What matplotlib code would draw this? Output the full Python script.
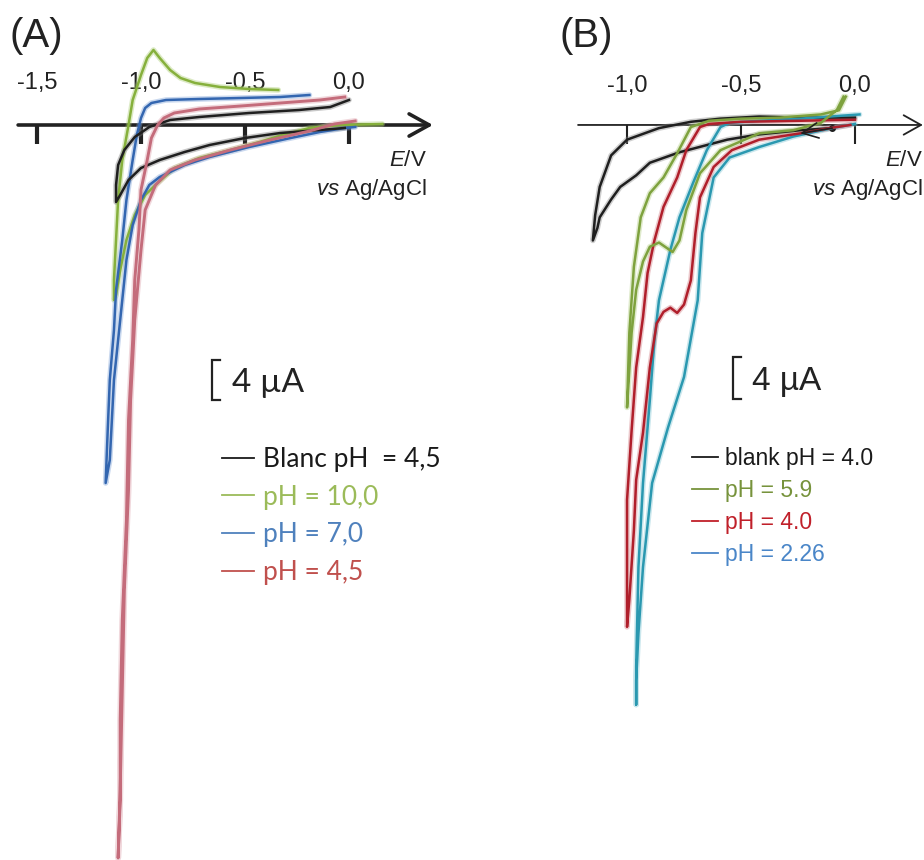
import matplotlib
matplotlib.use('Agg')
import matplotlib.pyplot as plt
from matplotlib.lines import Line2D

plt.rcParams['font.family'] = 'Liberation Sans'
plt.rcParams['mathtext.fontset'] = 'custom'
plt.rcParams['mathtext.it'] = 'Liberation Sans:italic'
plt.rcParams['mathtext.rm'] = 'Liberation Sans'

# ---- data: potential E (V vs Ag/AgCl) and current I (uA) ----
# panel A
e_blank_a = [0.00, -0.09, -0.24, -0.48, -0.72, -0.86, -0.96, -1.03, -1.08, -1.11, -1.12, -1.12,
             -1.10, -1.06, -1.00, -0.91, -0.79, -0.67, -0.50, -0.33, -0.14, -0.02]
i_blank_a = [2.5, 1.8, 1.5, 1.2, 0.8, 0.5, -0.2, -1.2, -2.5, -4.0, -6.0, -7.7,
             -7.0, -5.5, -4.3, -3.5, -2.7, -2.0, -1.3, -0.8, -0.5, -0.3]

e_ph10 = [-0.34, -0.48, -0.62, -0.74, -0.81, -0.86, -0.91, -0.94, -0.97, -1.00, -1.04, -1.06,
          -1.09, -1.11, -1.12, -1.13, -1.13, -1.12, -1.10, -1.07, -1.03, -0.98, -0.92, -0.84,
          -0.72, -0.57, -0.43, -0.32, -0.19, -0.04, 0.16]
i_ph10 = [3.5, 3.6, 3.8, 4.2, 4.7, 5.5, 6.7, 7.5, 6.7, 5.0, 2.5, 0.0,
          -3.5, -7.5, -11.5, -15.5, -17.5, -17.0, -14.5, -11.5, -9.0, -7.0, -5.8, -4.3,
          -3.3, -2.5, -1.7, -1.0, -0.3, 0.0, 0.1]

e_ph7 = [-0.19, -0.33, -0.52, -0.72, -0.88, -0.95, -0.98, -1.00, -1.02, -1.04, -1.07, -1.09,
         -1.12, -1.13, -1.15, -1.16, -1.17, -1.15, -1.14, -1.13, -1.11, -1.09, -1.07, -1.04,
         -1.00, -0.96, -0.91, -0.79, -0.67, -0.48, -0.28, -0.14, -0.02, 0.03]
i_ph7 = [3.0, 2.8, 2.7, 2.6, 2.5, 2.2, 1.7, 0.7, -1.0, -3.5, -7.5, -11.5,
         -16.5, -20.5, -25.5, -30.5, -35.8, -33.5, -29.5, -25.5, -21.5, -17.5, -13.5, -10.0,
         -7.5, -6.0, -5.2, -4.0, -3.2, -2.2, -1.3, -0.7, -0.3, -0.2]

e_ph45 = [-0.02, -0.14, -0.33, -0.52, -0.72, -0.84, -0.89, -0.92, -0.95, -0.97, -1.00, -1.01,
          -1.03, -1.04, -1.06, -1.07, -1.09, -1.10, -1.10, -1.11, -1.10, -1.09, -1.08, -1.06,
          -1.05, -1.03, -1.00, -0.98, -0.93, -0.86, -0.74, -0.57, -0.38, -0.19, -0.07, 0.03]
i_ph45 = [2.8, 2.5, 2.2, 1.9, 1.6, 1.2, 0.7, 0.0, -1.3, -3.5, -6.5, -10.5,
          -15.5, -21.5, -29.5, -39.5, -49.5, -59.5, -67.5, -73.3, -66.5, -56.5, -46.5, -36.5,
          -27.5, -19.5, -12.5, -8.5, -6.0, -4.5, -3.5, -2.5, -1.5, -0.6, 0.1, 0.4]

# panel B
e_blank_b = [0.00, -0.24, -0.42, -0.59, -0.72, -0.86, -1.00, -1.07, -1.12, -1.14, -1.15,
             -1.13, -1.12, -1.07, -1.03, -0.96, -0.90, -0.77, -0.56, -0.42, -0.24, -0.10]
i_blank_b = [0.7, 0.7, 0.8, 0.6, 0.3, -0.3, -1.4, -2.9, -5.9, -8.6, -11.0,
             -9.8, -8.8, -7.1, -5.9, -4.8, -3.6, -2.6, -1.4, -0.9, -0.5, -0.3]

e_ph59 = [-0.04, -0.07, -0.15, -0.33, -0.50, -0.64, -0.72, -0.78, -0.84, -0.90, -0.94, -0.97,
          -0.99, -1.00, -0.99, -0.98, -0.96, -0.93, -0.90, -0.86, -0.80, -0.77, -0.74, -0.68,
          -0.59, -0.42, -0.27, -0.15, -0.08, -0.05]
i_ph59 = [2.7, 1.4, 1.0, 0.7, 0.6, 0.4, -0.2, -2.7, -5.0, -6.5, -8.8, -13.5,
          -19.8, -26.9, -23.3, -19.8, -15.7, -13.0, -11.6, -11.2, -12.1, -11.0, -8.1, -4.6,
          -2.4, -0.8, -0.5, 0.2, 1.4, 2.7]

e_ph40 = [0.00, -0.24, -0.50, -0.64, -0.68, -0.74, -0.78, -0.84, -0.88, -0.91, -0.93, -0.96,
          -0.98, -1.00, -1.00, -1.00, -0.99, -0.97, -0.96, -0.93, -0.90, -0.87, -0.84, -0.81,
          -0.78, -0.75, -0.72, -0.70, -0.68, -0.62, -0.54, -0.42, -0.24, -0.11, -0.02]
i_ph40 = [0.5, 0.4, 0.3, 0.1, -0.2, -2.4, -5.0, -7.8, -11.0, -14.1, -18.3, -23.1,
          -29.1, -35.7, -42.4, -47.8, -45.2, -38.6, -33.8, -29.3, -23.1, -18.9, -17.8, -17.4,
          -17.9, -17.1, -14.8, -10.3, -6.9, -4.0, -2.4, -1.4, -0.8, -0.3, 0.0]

e_ph226 = [0.02, -0.24, -0.42, -0.55, -0.59, -0.65, -0.71, -0.77, -0.81, -0.86, -0.88, -0.90,
           -0.93, -0.95, -0.96, -0.96, -0.96, -0.95, -0.93, -0.89, -0.82, -0.75, -0.69, -0.67,
           -0.62, -0.55, -0.42, -0.27, -0.10, 0.00]
i_ph226 = [1.0, 0.6, 0.4, 0.2, -0.2, -2.4, -5.5, -8.8, -11.9, -16.7, -20.5, -26.2,
           -34.1, -42.1, -51.6, -55.2, -52.9, -48.4, -42.1, -34.1, -28.8, -24.0, -16.7, -10.3,
           -5.0, -3.1, -2.1, -1.1, -0.3, 0.1]

ticks_a = [-1.5, -1.0, -0.5, 0.0]
tick_labels_a = ['-1,5', '-1,0', '-0,5', '0,0']
ticks_b = [-1.0, -0.5, 0.0]
tick_labels_b = ['-1,0', '-0,5', '0,0']

labels_a = ['Blanc pH  = 4,5', 'pH = 10,0', 'pH = 7,0', 'pH = 4,5']
legend_colors_a = ['#1a1a1a', '#9bbb59', '#4f81bd', '#c0504d']
labels_b = ['blank pH = 4.0', 'pH = 5.9', 'pH = 4.0', 'pH = 2.26']
legend_colors_b = ['#1a1a1a', '#77933c', '#c0202a', '#4a86c8']

scale_ua = 4

W, H = 924, 860
fig = plt.figure(figsize=(W / 100, H / 100), dpi=100)

axA = fig.add_axes([0, 0, 460 / W, 1])
axB = fig.add_axes([540 / W, 0, 384 / W, 1])
axA.set_xlim(-1.678, 0.534)
axA.set_ylim(-73.5, 12.5)
axB.set_xlim(-1.382, 0.303)
axB.set_ylim(-70.0, 11.9)


def style_axis(ax, ticks, labels, lw, tick_w, x0, x1, head_len, head_w, pad):
    for s in ['left', 'right', 'bottom', 'top']:
        ax.spines[s].set_visible(False)
    ax.spines['top'].set_position(('data', 0))
    ax.xaxis.set_ticks_position('top')
    ax.set_xticks(ticks)
    ax.set_xticklabels(labels, fontsize=17, color='#222')
    ax.tick_params(axis='x', direction='in', length=14, width=tick_w, pad=pad, color='#222')
    ax.set_yticks([])
    ax.patch.set_visible(False)
    ax.annotate('', xy=(x1, 0), xytext=(x0, 0), annotation_clip=False, zorder=1,
                arrowprops=dict(arrowstyle=f'->,head_length={head_len},head_width={head_w}',
                                lw=lw, color='#222', shrinkA=0, shrinkB=0))


def draw_cv(ax, e, i, color, halo, lw=1.8, **kw):
    ax.plot(e, i, color=halo, lw=lw + 2.2, alpha=0.4, solid_joinstyle='round',
            solid_capstyle='round', zorder=2)
    ax.plot(e, i, color=color, lw=lw, solid_joinstyle='round', zorder=3, **kw)


style_axis(axA, ticks_a, tick_labels_a, 2.6, 3.0, -1.591, 0.404, 1.45, 0.8, 22)
style_axis(axB, ticks_b, tick_labels_b, 1.3, 1.5, -1.215, 0.298, 1.25, 0.7, 20)

# panel A curves
draw_cv(axA, e_ph10, i_ph10, '#86b03c', '#a8cc70')
draw_cv(axA, e_ph7, i_ph7, '#3366b0', '#7a9fd6')
draw_cv(axA, e_blank_a, i_blank_a, '#1f1f1f', '#777777')
draw_cv(axA, e_ph45, i_ph45, '#c46c7b', '#dca0aa', lw=2.1)

# panel B curves
draw_cv(axB, e_blank_b, i_blank_b, '#1f1f1f', '#888888', marker='o', markevery=[-1], ms=4)
draw_cv(axB, e_ph226, i_ph226, '#2a98b0', '#7cc3d3')
draw_cv(axB, e_ph40, i_ph40, '#b01f2b', '#d07a80')
draw_cv(axB, e_ph59, i_ph59, '#7ea23e', '#b0cc80')
axB.annotate('', xy=(e_blank_b[-2], i_blank_b[-2] - 0.3), xytext=(e_blank_b[-1], i_blank_b[-1]),
             arrowprops=dict(arrowstyle='->,head_length=1.15,head_width=0.55', lw=1.2,
                             color='#1f1f1f', shrinkA=0, shrinkB=0), zorder=4)

# scale bars
for ax, e0, top, dx, txt_e, font in [(axA, -0.659, -23.5, 0.04, -0.5625, 'Lato'),
                                     (axB, -0.535, -22.1, 0.035, -0.452, 'Liberation Sans')]:
    ax.plot([e0 + dx, e0, e0, e0 + dx], [top, top, top - scale_ua, top - scale_ua],
            color='#222', lw=1.6, solid_joinstyle='miter')
    ax.text(txt_e, top - scale_ua / 2 - 0.3, f'{scale_ua} µA', fontsize=24, family=font,
            va='center', ha='left', color='#222')

# legends
handles_a = [Line2D([], [], color=c, lw=1.3) for c in legend_colors_a]
axA.legend(handles_a, labels_a, loc='upper left', bbox_to_anchor=(222 / W, 1 - 447 / H),
           bbox_transform=fig.transFigure, frameon=False, prop={'family': 'Lato', 'size': 19},
           handlelength=1.2, handletextpad=0.35, labelspacing=0.48, borderpad=0,
           borderaxespad=0, labelcolor=legend_colors_a)
handles_b = [Line2D([], [], color=c, lw=1.3) for c in legend_colors_b]
axB.legend(handles_b, labels_b, loc='upper left', bbox_to_anchor=(692 / W, 1 - 447 / H),
           bbox_transform=fig.transFigure, frameon=False, prop={'size': 16.5},
           handlelength=1.15, handletextpad=0.28, labelspacing=0.39, borderpad=0,
           borderaxespad=0, labelcolor=legend_colors_b)

# axis titles and panel labels
for xr in [427, 923]:
    fig.text(xr / W, 1 - 161 / H, r'$\mathit{E}$/V', ha='right', va='center', fontsize=16, color='#222')
    fig.text(xr / W, 1 - 190 / H, r'$\mathit{vs}$ Ag/AgCl', ha='right', va='center', fontsize=16, color='#222')
fig.text(9 / W, 1 - 36 / H, '(A)', fontsize=29, va='center', color='#222')
fig.text(560 / W, 1 - 36 / H, '(B)', fontsize=29, va='center', color='#222')

fig.savefig('out.png', dpi=100)
